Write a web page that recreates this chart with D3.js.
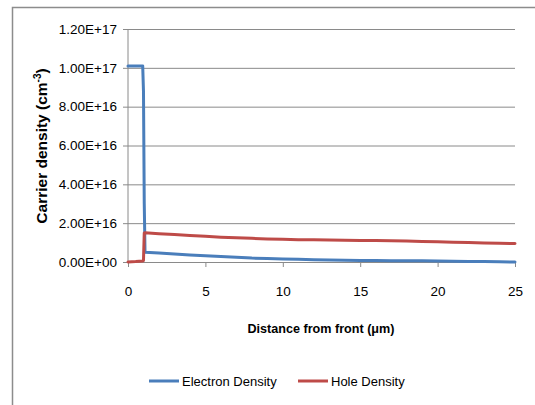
<!DOCTYPE html>
<html><head><meta charset="utf-8">
<script src="https://cdn.jsdelivr.net/npm/d3@7"></script>
<style>body{margin:0;background:#fff;}svg{display:block;font-family:"Liberation Sans",Arial,sans-serif;}</style>
</head><body>
<script>
const xValues = [0, 0.5, 0.95, 1.0, 1.05, 1.1, 2, 3, 4, 5, 6, 7, 8, 9, 10, 11, 12, 13, 14, 15, 16, 17, 18, 19, 20, 21, 22, 23, 24, 25];
const electronDensity = [1.01e17, 1.01e17, 1.01e17, 8.8e16, 3.0e16, 5.0e15, 4.6e15, 4.1e15, 3.6e15, 3.2e15, 2.8e15, 2.4e15, 2.0e15, 1.8e15, 1.6e15, 1.4e15, 1.2e15, 1.0e15, 0.9e15, 0.8e15, 0.8e15, 0.7e15, 0.6e15, 0.6e15, 0.5e15, 0.4e15, 0.3e15, 0.2e15, 0.1e15, 0];
const holeDensity = [0, 2e14, 5e14, 8e14, 1.5e16, 1.51e16, 1.46e16, 1.42e16, 1.37e16, 1.32e16, 1.28e16, 1.25e16, 1.22e16, 1.19e16, 1.17e16, 1.15e16, 1.14e16, 1.13e16, 1.12e16, 1.11e16, 1.11e16, 1.10e16, 1.08e16, 1.06e16, 1.04e16, 1.02e16, 1.0e16, 0.98e16, 0.96e16, 0.95e16];
const xTicks = [0, 5, 10, 15, 20, 25];
const yTicks = [0, 2e16, 4e16, 6e16, 8e16, 1e17, 1.2e17];
const yTickLabels = ["0.00E+00", "2.00E+16", "4.00E+16", "6.00E+16", "8.00E+16", "1.00E+17", "1.20E+17"];
const seriesNames = ["Electron Density", "Hole Density"];
const seriesColors = ["#4A7EBB", "#BE4B48"];

const W = 535, H = 405;
const svg = d3.select("body").append("svg").attr("width", W).attr("height", H);

// outer frame (partially visible)
svg.append("path").attr("d", "M12.5,405 V7.5 H535").attr("fill", "none").attr("stroke", "#8c8c8c").attr("stroke-width", 1.5);

const x = d3.scaleLinear().domain([0, 25]).range([128, 515]);
const y = d3.scaleLinear().domain([0, 1.2e17]).range([262, 29]);

// gridlines + y ticks
const yAxis = d3.axisLeft(y).tickValues(yTicks).tickSize(-(515 - 123)).tickSizeOuter(0)
  .tickFormat((d, i) => yTickLabels[i]).tickPadding(6);
const gy = svg.append("g").attr("transform", "translate(123,0)").call(yAxis);
gy.select(".domain").remove();
gy.selectAll(".tick line").attr("stroke", "#8a8a8a").attr("stroke-width", 1).attr("x1", 0).attr("x2", 515 - 123);
gy.selectAll(".tick text").attr("x", -6).attr("font-size", 13.5).attr("fill", "#000").attr("font-family", "Liberation Sans, Arial, sans-serif");

// y axis line
svg.append("line").attr("x1", 128).attr("x2", 128).attr("y1", 29).attr("y2", 262).attr("stroke", "#8a8a8a");

// x axis
const xAxis = d3.axisBottom(x).tickValues(xTicks).tickSize(5).tickSizeOuter(0).tickPadding(19);
const gx = svg.append("g").attr("transform", "translate(0,262)").call(xAxis);
gx.select(".domain").attr("stroke", "#8a8a8a");
gx.selectAll(".tick line").attr("stroke", "#8a8a8a");
gx.selectAll(".tick text").attr("font-size", 13.5).attr("fill", "#000").attr("font-family", "Liberation Sans, Arial, sans-serif");

// lines
const line = d3.line().x(d => x(d[0])).y(d => y(d[1]));
const series = [electronDensity, holeDensity];
series.forEach((vals, i) => {
  svg.append("path").datum(xValues.map((xv, j) => [xv, vals[j]]))
    .attr("d", line).attr("fill", "none").attr("stroke", seriesColors[i])
    .attr("stroke-width", 3).attr("stroke-linejoin", "round").attr("stroke-linecap", "round");
});

// axis titles
svg.append("text").attr("x", 321).attr("y", 333).attr("text-anchor", "middle")
  .attr("font-size", 12.6).attr("font-weight", "bold").text("Distance from front (\u03bcm)");
const yt = svg.append("text").attr("transform", "translate(47,146) rotate(-90)").attr("text-anchor", "middle")
  .attr("font-size", 15.5).attr("font-weight", "bold");
yt.append("tspan").text("Carrier density (cm");
yt.append("tspan").attr("font-size", 10).attr("dy", -6).text("-3");
yt.append("tspan").attr("dy", 6).text(")");

// legend
const legX = [149, 298];
seriesNames.forEach((n, i) => {
  svg.append("line").attr("x1", legX[i]).attr("x2", legX[i] + 30).attr("y1", 381).attr("y2", 381)
    .attr("stroke", seriesColors[i]).attr("stroke-width", 3);
  svg.append("text").attr("x", legX[i] + 33).attr("y", 386).attr("font-size", 13).text(n);
});
</script>
</body></html>
